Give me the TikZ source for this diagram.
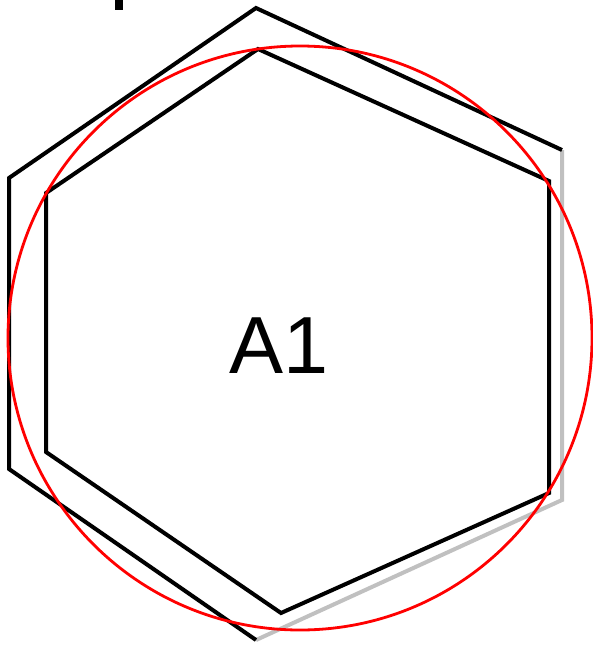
\documentclass[tikz,border=0pt]{standalone}
\usepackage{fontspec}
\setmainfont{Liberation Sans}
\usepackage{tikz}
\usetikzlibrary{positioning}
\definecolor{edgegray}{RGB}{192,192,192}

\begin{document}
\begin{tikzpicture}[
    x=1pt, y=-1pt,
    hexline/.style={draw=black, line width=4pt, line join=miter},
    shadeline/.style={draw=edgegray, line width=4pt},
    ring/.style={draw=red, line width=2.8pt},
    label/.style={font=\fontsize{81}{81}\selectfont, inner sep=0pt}
]
\useasboundingbox (0,0) rectangle (593,646);

% Outer hexagon
\coordinate (ot) at (256,8);
\coordinate (our) at (562,150);
\coordinate (olr) at (562,500);
\coordinate (ob) at (256,640);
\coordinate (oll) at (9,469);
\coordinate (oul) at (9,178);

% Inner hexagon
\coordinate (it) at (258,49);
\coordinate (iur) at (549,181);
\coordinate (ilr) at (549,493);
\coordinate (ib) at (281,613);
\coordinate (ill) at (46,452);
\coordinate (iul) at (46,193);

% Circle centre
\coordinate (c) at (300,338);

% Edges
\draw[shadeline] (our) -- (olr) -- (ob);
\draw[hexline] (ob) -- (oll) -- (oul) -- (ot) -- (our);
\draw[hexline] (it) -- (iur) -- (ilr) -- (ib) -- (ill) -- (iul) -- cycle;
\draw[ring] (c) circle[radius=292];

% Label
\node[label] (a1) at (279,346) {A1};

% Clipped mark at the top
\fill[black] (115,0) rectangle (123,10);

\end{tikzpicture}
\end{document}
